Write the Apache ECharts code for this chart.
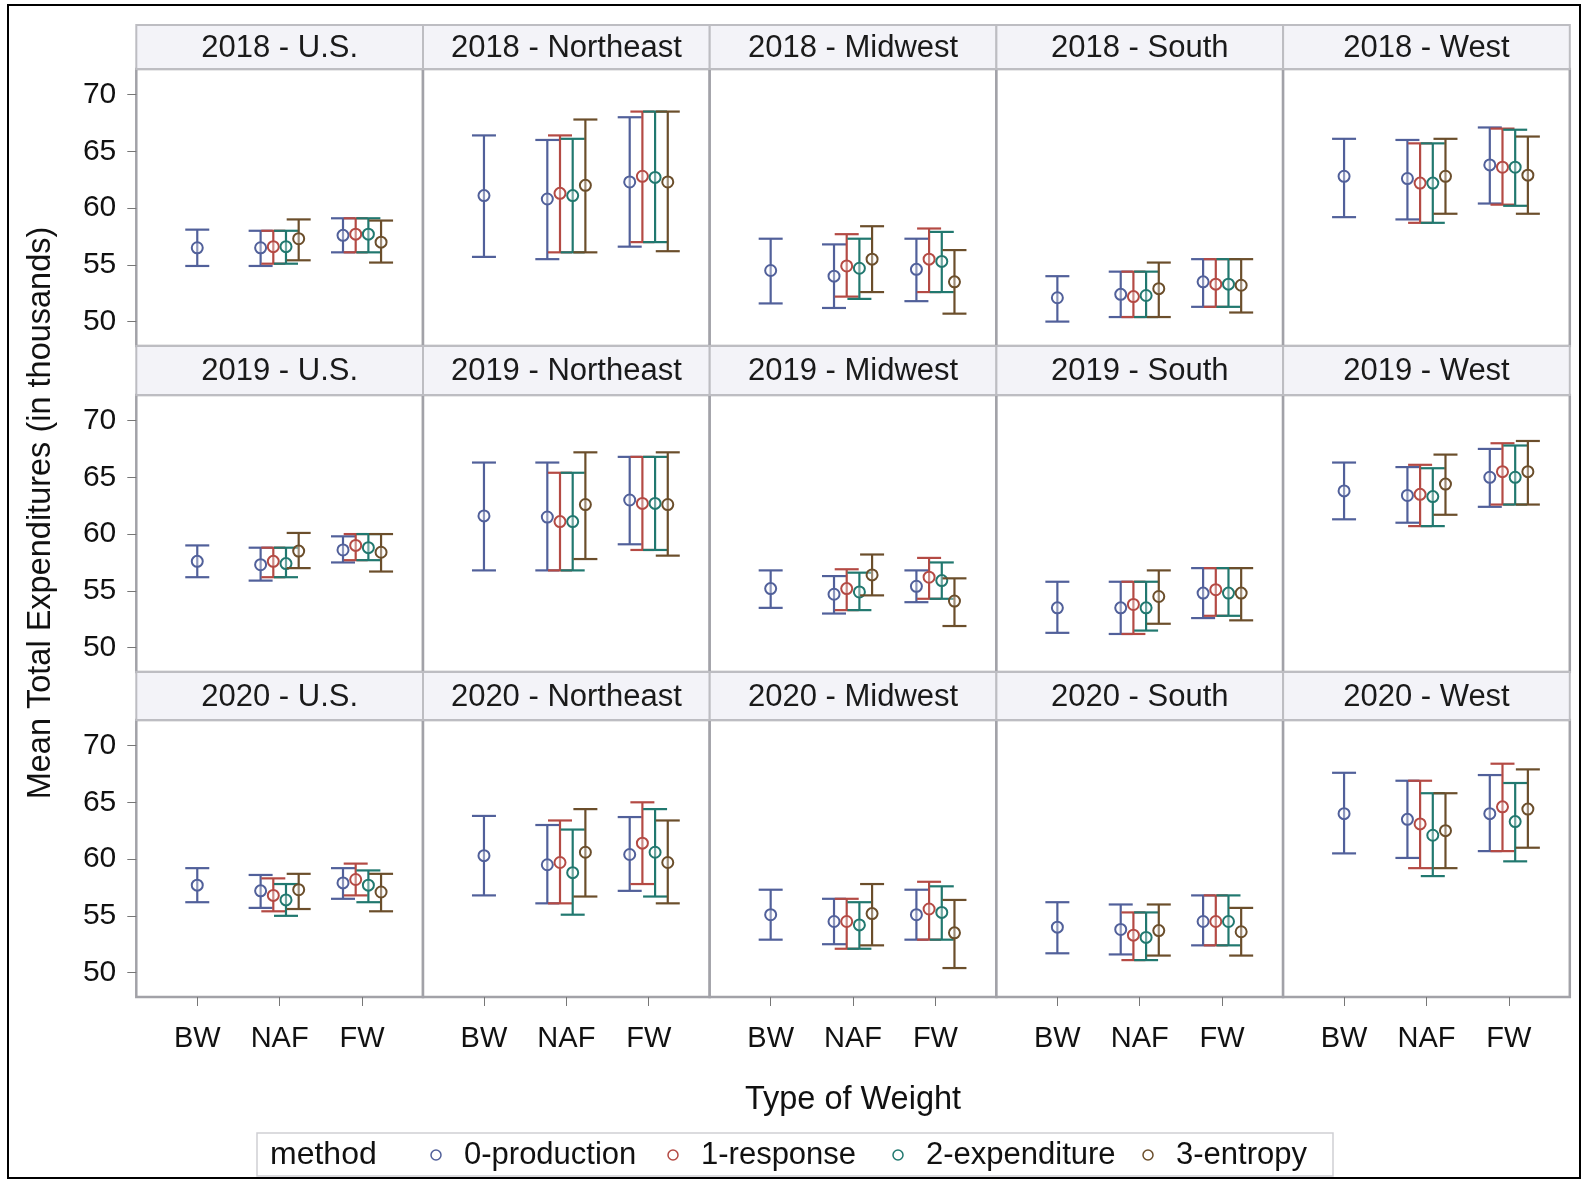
<!DOCTYPE html>
<html>
<head>
<meta charset="utf-8">
<script src="https://cdn.jsdelivr.net/npm/echarts@6/dist/echarts.min.js"></script>
<style>
  html, body { margin: 0; padding: 0; background: #ffffff; }
  #chart { width: 1583px; height: 1182px; }
</style>
</head>
<body>
<div id="chart"></div>
<script>
// ---- data ----------------------------------------------------------------
const years = ['2018', '2019', '2020'];
const regions = ['U.S.', 'Northeast', 'Midwest', 'South', 'West'];
const weightTypes = ['BW', 'NAF', 'FW'];
const methods = ['0-production', '1-response', '2-expenditure', '3-entropy'];
const yTicks = [50, 55, 60, 65, 70];

// [mean, lower, upper] for each panel, ordered 2018 U.S. ... 2020 West
const bwProduction = [
  [56.5, 54.9, 58.1], [61.1, 55.7, 66.4], [54.5, 51.6, 57.3], [52.1, 50.0, 54.0], [62.8, 59.2, 66.1],
  [57.6, 56.2, 59.0], [61.6, 56.8, 66.3], [55.2, 53.5, 56.8], [53.5, 51.3, 55.8], [63.8, 61.3, 66.3],
  [57.7, 56.2, 59.2], [60.3, 56.8, 63.8], [55.1, 52.9, 57.3], [54.0, 51.7, 56.2], [64.0, 60.5, 67.6]
];
const nafProduction = [
  [56.5, 54.9, 58.0], [60.8, 55.5, 66.0], [54.0, 51.2, 56.8], [52.4, 50.4, 54.4], [62.6, 59.0, 66.0],
  [57.3, 55.9, 58.8], [61.5, 56.8, 66.3], [54.7, 53.0, 56.3], [53.5, 51.2, 55.8], [63.4, 61.0, 65.9],
  [57.2, 55.7, 58.6], [59.5, 56.1, 63.0], [54.5, 52.5, 56.5], [53.8, 51.6, 56.0], [63.5, 60.1, 66.9]
];
const nafResponse = [
  [56.6, 55.1, 58.0], [61.3, 56.1, 66.4], [54.9, 52.2, 57.7], [52.2, 50.4, 54.4], [62.2, 58.7, 65.7],
  [57.6, 56.2, 58.8], [61.1, 56.8, 65.4], [55.2, 53.3, 56.9], [53.8, 51.2, 55.8], [63.5, 60.7, 66.1],
  [56.8, 55.4, 58.3], [59.7, 56.1, 63.4], [54.5, 52.1, 56.5], [53.3, 51.1, 55.3], [63.1, 59.2, 66.9]
];
const nafExpenditure = [
  [56.6, 55.1, 58.0], [61.1, 56.1, 66.1], [54.7, 52.0, 57.3], [52.3, 50.4, 54.4], [62.2, 58.7, 65.7],
  [57.4, 56.2, 58.8], [61.1, 56.8, 65.4], [54.9, 53.3, 56.6], [53.5, 51.5, 55.8], [63.3, 60.7, 65.8],
  [56.4, 55.0, 57.8], [58.8, 55.1, 62.6], [54.2, 52.1, 56.2], [53.1, 51.1, 55.3], [62.1, 58.5, 65.8]
];
const nafEntropy = [
  [57.3, 55.4, 59.0], [62.0, 56.1, 67.8], [55.5, 52.6, 58.4], [52.9, 50.4, 55.2], [62.8, 59.5, 66.1],
  [58.5, 57.0, 60.1], [62.6, 57.8, 67.2], [56.4, 54.6, 58.2], [54.5, 52.1, 56.8], [64.4, 61.7, 67.0],
  [57.3, 55.6, 58.7], [60.6, 56.7, 64.4], [55.2, 52.4, 57.8], [53.7, 51.5, 56.0], [62.5, 59.2, 65.8]
];
const fwProduction = [
  [57.6, 56.1, 59.1], [62.3, 56.6, 68.0], [54.6, 51.8, 57.3], [53.5, 51.3, 55.5], [63.8, 60.4, 67.1],
  [58.6, 57.5, 59.8], [63.0, 59.1, 66.8], [55.4, 54.0, 56.8], [54.8, 52.6, 57.0], [65.0, 62.4, 67.5],
  [57.9, 56.5, 59.2], [60.4, 57.2, 63.7], [55.1, 52.9, 57.3], [54.5, 52.4, 56.8], [64.0, 60.7, 67.4]
];
const fwResponse = [
  [57.7, 56.1, 59.1], [62.8, 57.0, 68.5], [55.5, 52.6, 58.2], [53.3, 51.3, 55.5], [63.6, 60.3, 67.0],
  [59.0, 57.7, 60.0], [62.7, 58.6, 66.8], [56.2, 54.3, 57.9], [55.1, 52.8, 57.0], [65.5, 62.6, 68.0],
  [58.2, 56.8, 59.6], [61.4, 57.8, 65.0], [55.6, 52.9, 58.0], [54.5, 52.4, 56.8], [64.6, 60.7, 68.4]
];
const fwExpenditure = [
  [57.7, 56.1, 59.1], [62.7, 57.0, 68.5], [55.3, 52.6, 57.9], [53.3, 51.3, 55.5], [63.6, 60.2, 66.9],
  [58.8, 57.7, 60.0], [62.7, 58.6, 66.8], [55.9, 54.3, 57.5], [54.8, 52.8, 57.0], [65.0, 62.6, 67.8],
  [57.7, 56.2, 59.0], [60.6, 56.7, 64.4], [55.3, 52.9, 57.6], [54.5, 52.4, 56.8], [63.3, 59.8, 66.7]
];
const fwEntropy = [
  [57.0, 55.2, 58.9], [62.3, 56.2, 68.5], [53.5, 50.7, 56.3], [53.2, 50.8, 55.5], [62.9, 59.5, 66.3],
  [58.4, 56.7, 60.0], [62.6, 58.1, 67.2], [54.1, 51.9, 56.1], [54.8, 52.4, 57.0], [65.5, 62.6, 68.2],
  [57.1, 55.4, 58.7], [59.7, 56.1, 63.4], [53.5, 50.4, 56.4], [53.6, 51.5, 55.7], [64.4, 61.0, 67.9]
];

// ---- styling / layout ----------------------------------------------------
const FONT = '"Liberation Sans", Arial, Helvetica, sans-serif';
const methodColors = ['#51609a', '#b44a44', '#21786f', '#6b4e2b'];
const clusterOffset = [-0.231, -0.077, 0.077, 0.231];

const colLeft0 = 136.3, colWidth = 286.7;
const plotTop = [69, 395, 720];
const headerTop = [25, 346, 672];
const plotHeight = 277;
const Y_MIN = 47.85, Y_MAX = 72.25;
const X_MIN = 0.26, X_MAX = 3.74;
const CAP = 24;

const nafByMethod = [nafProduction, nafResponse, nafExpenditure, nafEntropy];
const fwByMethod = [fwProduction, fwResponse, fwExpenditure, fwEntropy];

// Error bar: vertical whisker with caps and a hollow circle at the mean
function renderErrorBar(params, api) {
  const x = api.value(0);
  const mid = api.coord([x, api.value(1)]);
  const lo = api.coord([x, api.value(2)]);
  const hi = api.coord([x, api.value(3)]);
  const color = api.visual('color');
  const half = CAP / 2;
  const lineStyle = { stroke: color, lineWidth: 2.2 };
  return {
    type: 'group',
    children: [
      { type: 'line', shape: { x1: mid[0], y1: hi[1], x2: mid[0], y2: lo[1] }, style: lineStyle },
      { type: 'line', shape: { x1: mid[0] - half, y1: hi[1], x2: mid[0] + half, y2: hi[1] }, style: lineStyle },
      { type: 'line', shape: { x1: mid[0] - half, y1: lo[1], x2: mid[0] + half, y2: lo[1] }, style: lineStyle },
      { type: 'circle', shape: { cx: mid[0], cy: mid[1], r: 5.5 }, style: { fill: 'rgba(255,255,255,0.35)', stroke: color, lineWidth: 2 } }
    ]
  };
}

const grids = [], xAxes = [], yAxes = [], series = [], graphics = [];

years.forEach((year, r) => {
  regions.forEach((region, c) => {
    const p = r * regions.length + c;
    const left = colLeft0 + c * colWidth;
    grids.push({
      left: left, top: plotTop[r], width: colWidth, height: plotHeight,
      show: true, borderColor: '#a2a2a8', borderWidth: 2.5, backgroundColor: '#ffffff'
    });
    const bottomRow = r === years.length - 1;
    xAxes.push({
      gridIndex: p, type: 'value', min: X_MIN, max: X_MAX,
      axisLine: { show: false }, splitLine: { show: false },
      axisTick: { show: bottomRow, customValues: [1, 2, 3], length: 9, lineStyle: { color: '#777', width: 1 } },
      axisLabel: {
        show: bottomRow, customValues: [1, 2, 3], margin: 27,
        formatter: v => weightTypes[Math.round(v) - 1],
        fontFamily: FONT, fontSize: 29, color: '#111'
      }
    });
    const firstCol = c === 0;
    yAxes.push({
      gridIndex: p, type: 'value', min: Y_MIN, max: Y_MAX,
      axisLine: { show: false }, splitLine: { show: false },
      axisTick: { show: firstCol, customValues: yTicks, length: 9, lineStyle: { color: '#777', width: 1 } },
      axisLabel: {
        show: firstCol, customValues: yTicks, margin: 20,
        fontFamily: FONT, fontSize: 30, color: '#111'
      }
    });

    methods.forEach((m, k) => {
      const rows = [];
      if (k === 0) rows.push([1].concat(bwProduction[p]));
      rows.push([2 + clusterOffset[k]].concat(nafByMethod[k][p]));
      rows.push([3 + clusterOffset[k]].concat(fwByMethod[k][p]));
      series.push({
        type: 'custom', name: m, xAxisIndex: p, yAxisIndex: p,
        renderItem: renderErrorBar, itemStyle: { color: methodColors[k] },
        encode: { x: 0, y: [1, 2, 3] },
        data: rows, silent: true, animation: false, z: 2 + k
      });
    });

    // panel header strip
    const hTop = headerTop[r], hH = plotTop[r] - headerTop[r];
    graphics.push({
      type: 'rect', shape: { x: left, y: hTop, width: colWidth, height: hH },
      style: { fill: '#f3f3f8', stroke: '#bdbdc2', lineWidth: 2 }, z: 1
    });
    graphics.push({
      type: 'text', x: left + colWidth / 2, y: hTop + hH / 2 + 1,
      style: {
        text: year + ' - ' + region, fontFamily: FONT, fontSize: 31, fill: '#1a1a1a',
        align: 'center', verticalAlign: 'middle'
      }, z: 2
    });
  });
});

// outer frame
graphics.push({
  type: 'rect', shape: { x: 8, y: 5, width: 1572, height: 1173 },
  style: { fill: null, stroke: '#000', lineWidth: 2 }, z: 0
});
// axis titles
graphics.push({
  type: 'text', x: 853, y: 1100,
  style: { text: 'Type of Weight', fontFamily: FONT, fontSize: 32.5, fill: '#111', align: 'center', verticalAlign: 'middle' }
});
graphics.push({
  type: 'text', x: 41, y: 513, rotation: Math.PI / 2,
  style: { text: 'Mean Total Expenditures (in thousands)', fontFamily: FONT, fontSize: 32.5, fill: '#111', align: 'center', verticalAlign: 'middle' }
});
// legend
graphics.push({
  type: 'rect', shape: { x: 257, y: 1133, width: 1076, height: 43 },
  style: { fill: '#ffffff', stroke: '#cfcfd4', lineWidth: 1.5 }
});
graphics.push({
  type: 'text', x: 270, y: 1155,
  style: { text: 'method', fontFamily: FONT, fontSize: 32, fill: '#111', verticalAlign: 'middle' }
});
const legendMarkX = [436, 673, 898, 1148];
methods.forEach((m, k) => {
  graphics.push({
    type: 'circle', shape: { cx: legendMarkX[k], cy: 1155, r: 5 },
    style: { fill: 'none', stroke: methodColors[k], lineWidth: 1.5 }
  });
  graphics.push({
    type: 'text', x: legendMarkX[k] + 28, y: 1155,
    style: { text: m, fontFamily: FONT, fontSize: 31, fill: '#111', verticalAlign: 'middle' }
  });
});

const chart = echarts.init(document.getElementById('chart'), null, { renderer: 'canvas' });
chart.setOption({
  backgroundColor: '#ffffff',
  animation: false,
  grid: grids,
  xAxis: xAxes,
  yAxis: yAxes,
  series: series,
  graphic: { elements: graphics }
});
</script>
</body>
</html>
